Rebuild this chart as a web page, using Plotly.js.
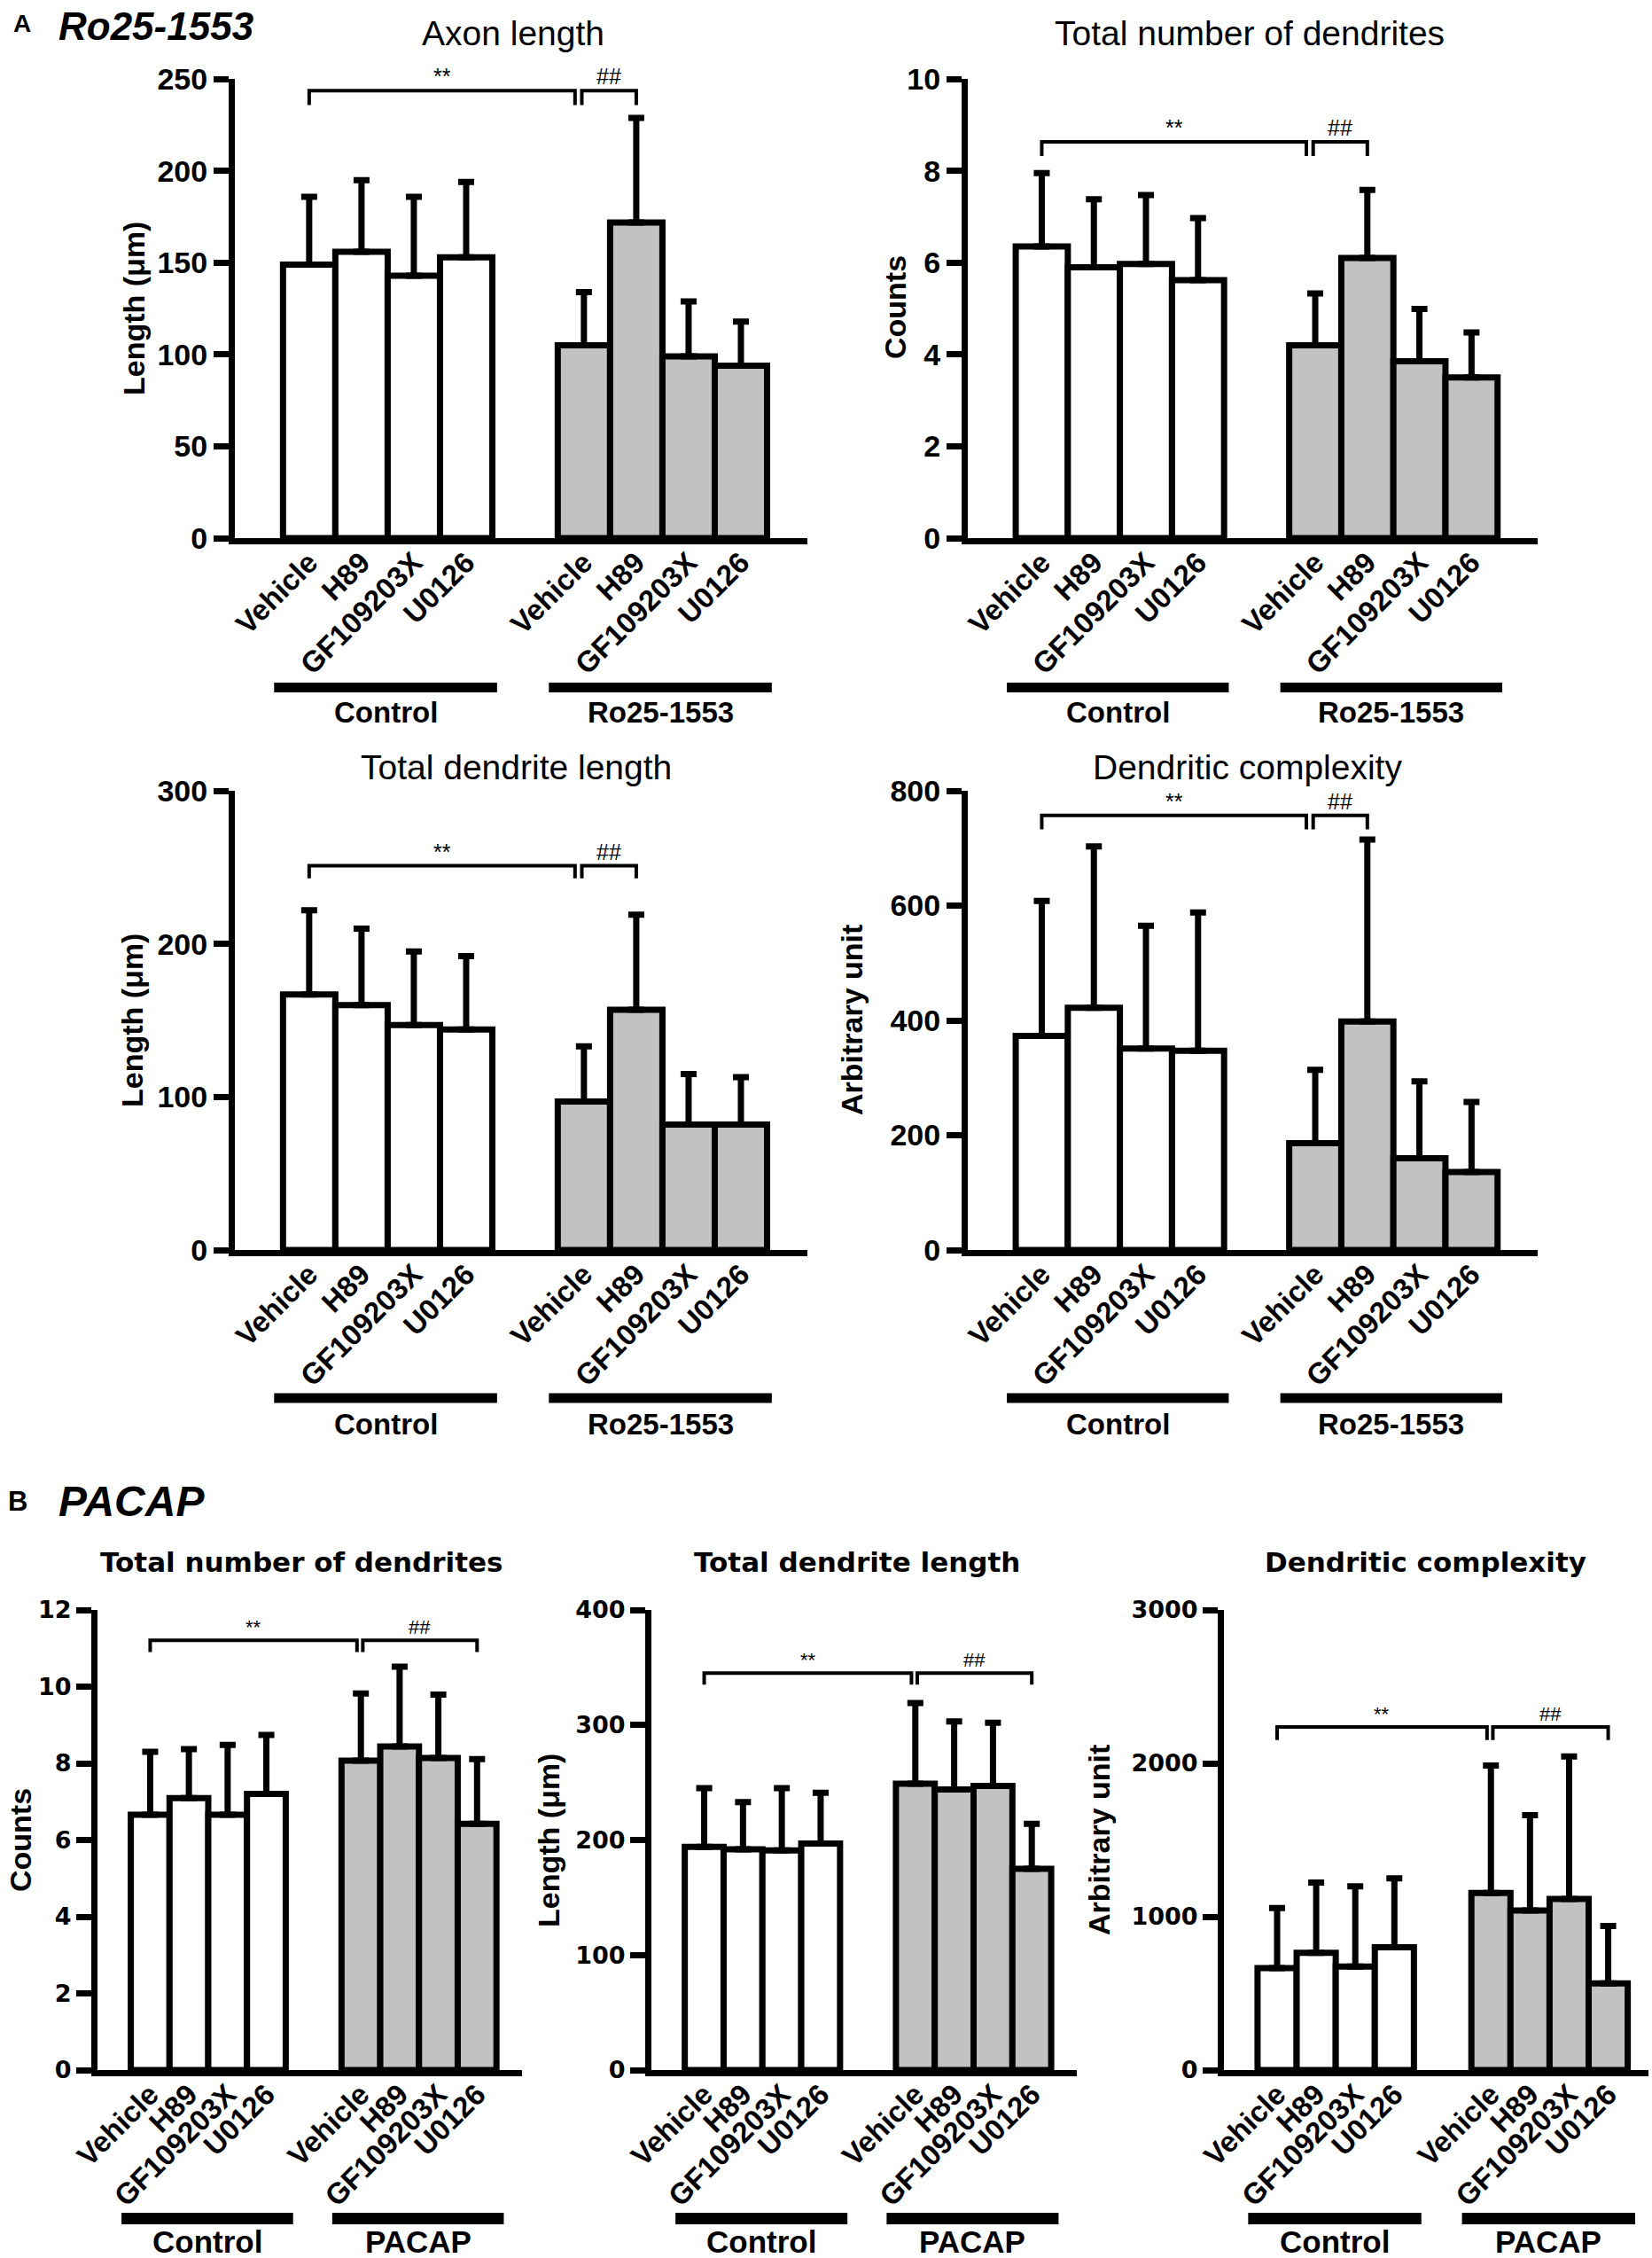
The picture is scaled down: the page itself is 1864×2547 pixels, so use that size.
<!DOCTYPE html>
<html><head><meta charset="utf-8">
<script src="https://cdn.plot.ly/plotly-3.0.1.min.js"></script>
<style>html,body{margin:0;padding:0;background:#fff}</style>
</head><body><div id="chart" style="width:1864px;height:2547px"></div>
<script>
// ---------- data ----------
const categories = ['Vehicle','H89','GF109203X','U0126','Vehicle','H89','GF109203X','U0126'];
const groupsA = ['Control','Ro25-1553'];
const groupsB = ['Control','PACAP'];
const panelLetters = ['A','B'];
const panelAgents = ['Ro25-1553','PACAP'];

const axonLengthMean = [149,156,143,153,105,172,99,94];
const axonLengthSD   = [37,39,43,41,29,57,30,24];
const dendNumAMean   = [6.35,5.9,5.97,5.62,4.2,6.1,3.85,3.5];
const dendNumASD     = [1.6,1.48,1.5,1.35,1.13,1.48,1.14,0.98];
const dendLenAMean   = [167,160,147,144,97,157,82,82];
const dendLenASD     = [55,50,48,48,36,62,33,31];
const complexAMean   = [373,422,351,347,186,398,160,136];
const complexASD     = [235,281,214,241,128,317,134,122];
const dendNumBMean   = [6.66,7.09,6.66,7.2,8.07,8.44,8.14,6.42];
const dendNumBSD     = [1.64,1.28,1.82,1.54,1.75,2.08,1.65,1.69];
const dendLenBMean   = [194,192,191,197,249,244,247,175];
const dendLenBSD     = [51,41,54,44,70,59,55,39];
const complexBMean   = [665,765,675,800,1155,1040,1115,565];
const complexBSD     = [392,457,523,450,830,622,930,375];

const sigMarks = ['**','##'];

// ---------- layout helpers ----------
const W = 1864, H = 2547;
const px = x => x / W;
const py = y => 1 - y / H;

const fA = 'Liberation Sans, Arial, Helvetica, sans-serif';
const fB = 'DejaVu Sans, Verdana, sans-serif';
const GRAY = '#c2c2c2';

const panels = [
  {title:'Axon length', ytitle:'Length (μm)', mean:axonLengthMean, sd:axonLengthSD, groups:groupsA,
   ymax:250, dtick:50, box:[265,911,89.4,607], gap:2.25, xr:[-1.42,9.52], br:[243.8,236],
   tXY:[579,37], ytXY:[151,348], gY:775.5, lY:803, s:'A'},
  {title:'Total number of dendrites', ytitle:'Counts', mean:dendNumAMean, sd:dendNumASD, groups:groupsA,
   ymax:10, dtick:2, box:[1092,1735,89,607], gap:2.25, xr:[-1.42,9.52], br:[8.63,8.32],
   tXY:[1410,37], ytXY:[1010,347], gY:775.5, lY:803, s:'A'},
  {title:'Total dendrite length', ytitle:'Length (μm)', mean:dendLenAMean, sd:dendLenASD, groups:groupsA,
   ymax:300, dtick:100, box:[265,911,892,1410], gap:2.25, xr:[-1.42,9.52], br:[251,242.8],
   tXY:[582,865], ytXY:[149,1151], gY:1577, lY:1606, s:'A'},
  {title:'Dendritic complexity', ytitle:'Arbitrary unit', mean:complexAMean, sd:complexASD, groups:groupsA,
   ymax:800, dtick:200, box:[1092,1735,892,1410], gap:2.25, xr:[-1.42,9.52], br:[757,733],
   tXY:[1407,865], ytXY:[961,1151], gY:1577, lY:1606, s:'A'},
  {title:'Total number of dendrites', ytitle:'Counts', mean:dendNumBMean, sd:dendNumBSD, groups:groupsB,
   ymax:12, dtick:2, box:[110,589,1816,2335], gap:2.44, xr:[-1.36,9.6], br:[11.21,10.9],
   tXY:[340,1762], ytXY:[23,2076], gY:2502.5, lY:2528, s:'B'},
  {title:'Total dendrite length', ytitle:'Length (μm)', mean:dendLenBMean, sd:dendLenBSD, groups:groupsB,
   ymax:400, dtick:100, box:[735,1215,1816,2335], gap:2.44, xr:[-1.36,9.6], br:[345,335],
   tXY:[967,1762], ytXY:[619,2076], gY:2502.5, lY:2528, s:'B'},
  {title:'Dendritic complexity', ytitle:'Arbitrary unit', mean:complexBMean, sd:complexBSD, groups:groupsB,
   ymax:3000, dtick:1000, box:[1381,1860,1816,2335], gap:2.47, xr:[-1.36,9.5], br:[2237,2152],
   tXY:[1608,1762], ytXY:[1240,2076], gY:2502.5, lY:2528, s:'B'}
];

const data = [];
const layout = {
  width: W, height: H, margin: {l:0, r:0, t:0, b:0},
  paper_bgcolor: '#fff', plot_bgcolor: '#fff', showlegend: false,
  barmode: 'overlay', shapes: [], annotations: []
};

panels.forEach((p, i) => {
  const k = i + 1;
  const xa = 'x' + k, ya = 'y' + k;
  const isA = p.s === 'A';
  const pos = categories.map((c, j) => j < 4 ? j : j + (p.gap - 1));
  const zeros = p.sd.map(() => 0);
  [[0,4,'#ffffff'],[4,8,GRAY]].forEach(([a,b,col]) => {
    data.push({
      type: 'bar', x: pos.slice(a,b), y: p.mean.slice(a,b), width: 1,
      xaxis: xa, yaxis: ya,
      marker: {color: col, line: {color: '#000', width: 7}},
      error_y: {type:'data', symmetric:false, array: p.sd.slice(a,b), arrayminus: zeros.slice(a,b),
                color:'#000', thickness: 7, width: 9},
      hoverinfo: 'skip'
    });
  });
  const [x0, x1, yt, yb] = p.box;
  layout['xaxis' + (k > 1 ? k : '')] = {
    domain: [px(x0), px(x1)], anchor: ya, range: p.xr, fixedrange: true,
    showline: true, linecolor: '#000', linewidth: 7, ticks: '', showgrid: false, zeroline: false,
    tickmode: 'array', tickvals: pos, ticktext: categories, tickangle: -45,
    ticklabelstandoff: -12,
    tickfont: {family: fA, size: 33, weight: 'bold', color: '#000'}
  };
  layout['yaxis' + (k > 1 ? k : '')] = {
    domain: [py(yb), py(yt)], anchor: xa, range: [0, p.ymax], dtick: p.dtick, tick0: 0,
    showline: true, linecolor: '#000', linewidth: 7, ticks: 'outside', ticklen: 17, tickwidth: 7,
    tickcolor: '#000', showgrid: false, zeroline: false, fixedrange: true,
    tickfont: isA ? {family: fA, size: 34, weight: 'bold', color: '#000'}
                  : {family: fB, size: 27, weight: 'bold', color: '#000'}
  };
  // significance brackets
  const o1 = isA ? 0.17 : 0.1, o2 = isA ? -0.04 : 0.05;
  const endJ = isA ? 5 : 7;
  const [yl, ybk] = p.br;
  const brs = [[pos[0], pos[4] - o1], [pos[4] + o2, pos[endJ]]];
  brs.forEach(([bx1, bx2], bi) => {
    layout.shapes.push({type:'path', xref: xa, yref: ya,
      path: `M ${bx1},${ybk} L ${bx1},${yl} L ${bx2},${yl} L ${bx2},${ybk}`,
      line: {color:'#000', width: 4}});
    layout.annotations.push({xref: xa, yref: ya, x: (bx1 + bx2) / 2, y: yl, yanchor: 'bottom',
      yshift: 0, showarrow: false, text: sigMarks[bi],
      font: {family: fA, size: isA ? 25 : 22, color: '#000'}});
  });
  // group bars + labels
  const gext = isA ? [0.17, 0.09] : [0.24, 0.19];
  [[0,3],[4,7]].forEach(([a,b], gi) => {
    const gx0 = pos[a] - 0.5 - gext[0], gx1 = pos[b] + 0.5 + gext[1];
    const th = isA ? 5.5 : 6.5;
    layout.shapes.push({type:'rect', xref: xa, yref: 'paper', x0: gx0, x1: gx1,
      y0: py(p.gY + th), y1: py(p.gY - th), fillcolor: '#000', line: {width: 0}});
    layout.annotations.push({xref: xa, yref: 'paper', x: (gx0 + gx1) / 2, y: py(p.lY),
      xanchor: 'center', yanchor: 'middle', showarrow: false, text: p.groups[gi],
      font: {family: fA, size: isA ? 33 : 35, weight: 'bold', color: '#000'}});
  });
  // titles
  layout.annotations.push({xref:'paper', yref:'paper', x: px(p.tXY[0]), y: py(p.tXY[1]),
    xanchor:'center', yanchor:'middle', showarrow:false, text: p.title,
    font: isA ? {family: fA, size: 39, color:'#000'} : {family: fB, size: 31, weight:'bold', color:'#000'}});
  layout.annotations.push({xref:'paper', yref:'paper', x: px(p.ytXY[0]), y: py(p.ytXY[1]),
    xanchor:'center', yanchor:'middle', showarrow:false, text: p.ytitle, textangle: -90,
    font: {family: fA, size: 34, weight:'bold', color:'#000'}});
});

// panel letters
layout.annotations.push({xref:'paper', yref:'paper', x: px(13), y: py(27), xanchor:'left', yanchor:'middle',
  showarrow:false, text: panelLetters[0], font:{family:fA, size:28, weight:'bold', color:'#000'}});
layout.annotations.push({xref:'paper', yref:'paper', x: px(64), y: py(29), xanchor:'left', yanchor:'middle',
  showarrow:false, text: panelAgents[0], font:{family:fA, size:44, weight:'bold', style:'italic', color:'#000'}});
layout.annotations.push({xref:'paper', yref:'paper', x: px(7), y: py(1693), xanchor:'left', yanchor:'middle',
  showarrow:false, text: panelLetters[1], font:{family:fA, size:31, weight:'bold', color:'#000'}});
layout.annotations.push({xref:'paper', yref:'paper', x: px(64), y: py(1693), xanchor:'left', yanchor:'middle',
  showarrow:false, text: panelAgents[1], font:{family:fA, size:48, weight:'bold', style:'italic', color:'#000'}});

Plotly.newPlot('chart', data, layout, {staticPlot: true, displayModeBar: false});
</script>
</body></html>
